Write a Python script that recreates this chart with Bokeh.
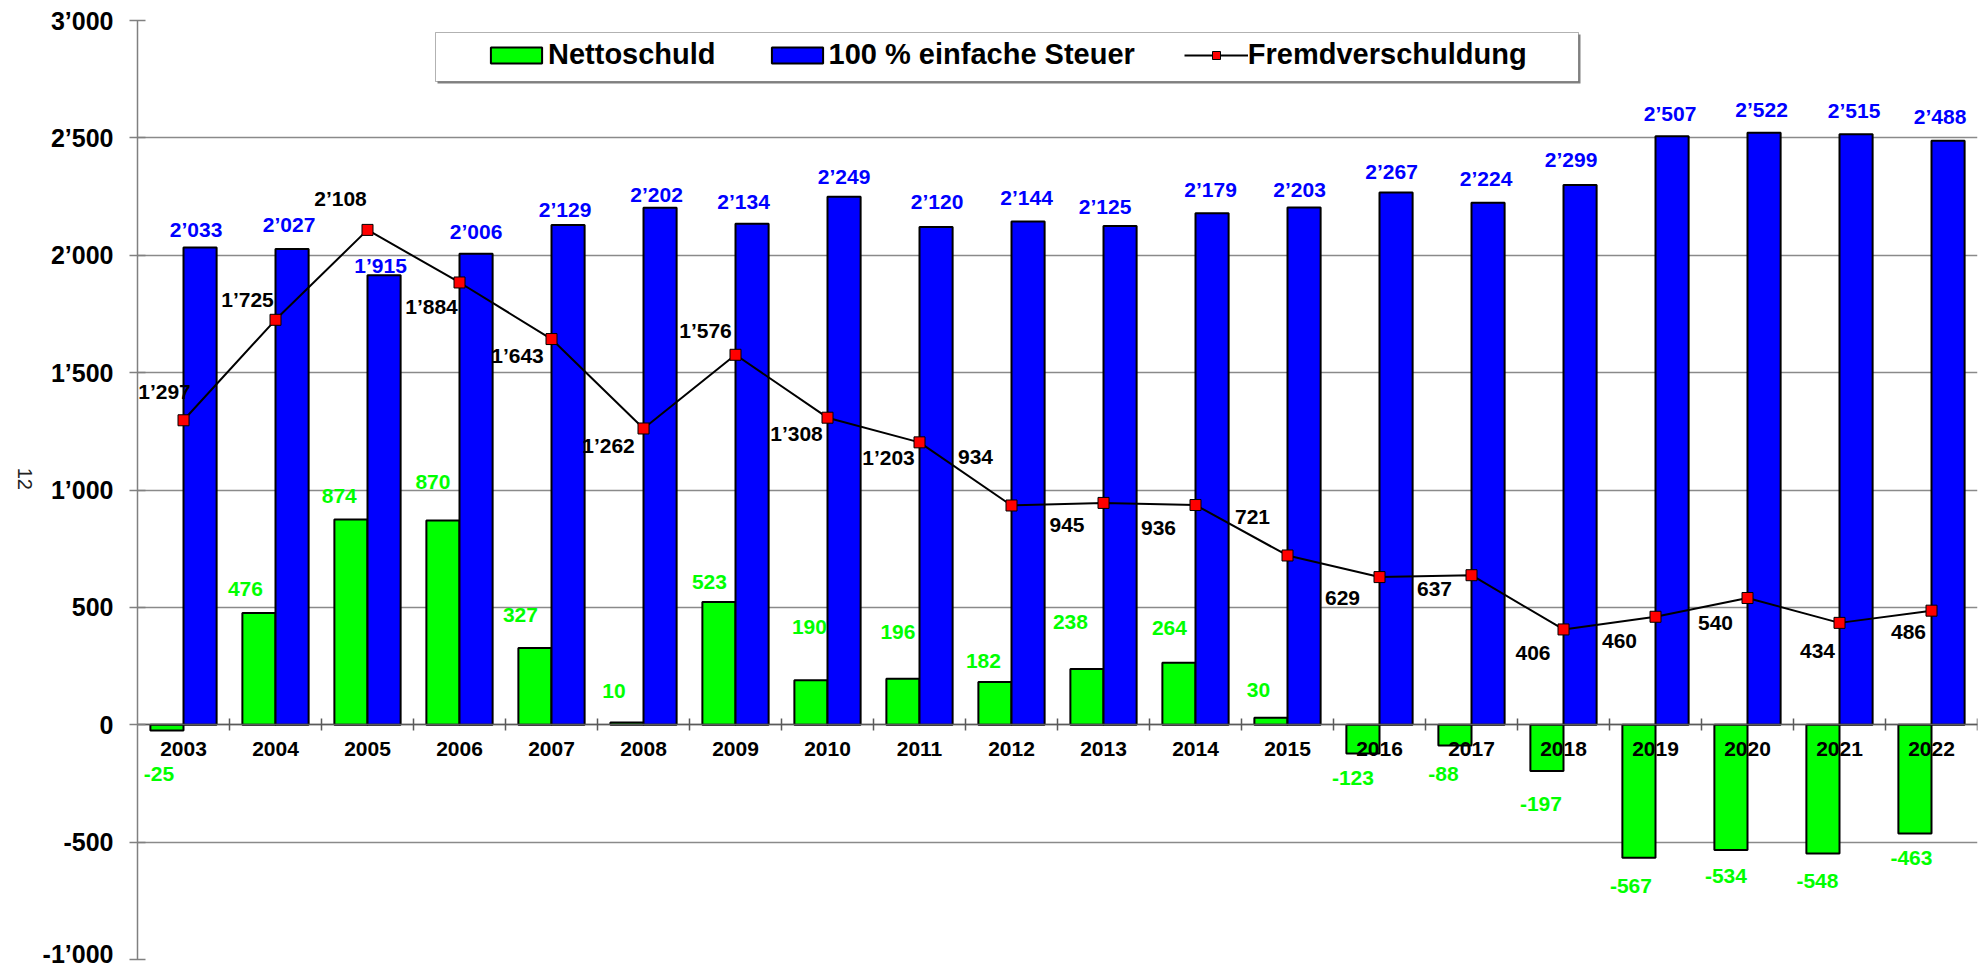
import math
from bokeh.plotting import figure
from bokeh.models import (Range1d, LinearAxis, FixedTicker, ColumnDataSource,
                          Legend, LegendItem, BoxAnnotation, LabelSet)
from bokeh.transform import dodge
from bokeh.core.properties import value
from bokeh.embed import file_html
from bokeh.resources import INLINE

# ---------------- data ----------------
years = [str(y) for y in range(2003, 2023)]
nettoschuld = [-25, 476, 874, 870, 327, 10, 523, 190, 196, 182, 238, 264, 30,
               -123, -88, -197, -567, -534, -548, -463]
steuer = [2033, 2027, 1915, 2006, 2129, 2202, 2134, 2249, 2120, 2144, 2125, 2179,
          2203, 2267, 2224, 2299, 2507, 2522, 2515, 2488]
fremd = [1297, 1725, 2108, 1884, 1643, 1262, 1576, 1308, 1203, 934, 945, 936,
         721, 629, 637, 406, 460, 540, 434, 486]
y_ticks = [-1000, -500, 0, 500, 1000, 1500, 2000, 2500, 3000]
y_tick_labels = ["-1\u2019000", "-500", "0", "500", "1\u2019000", "1\u2019500",
                 "2\u2019000", "2\u2019500", "3\u2019000"]
series_names = ["Nettoschuld", "100 % einfache Steuer", "Fremdverschuldung"]
axis_title = "12"

# label placement offsets (screen px, down = positive; styling only)
green_dx = [-8, -13.5, -11.7, -10, -14.5, -13, -9.5, -1.5, -5, -11.5, -16.5, -9.5, -12.5,
            -10, -11.5, -6, -8, -5, -5.5, -3.5]
green_dy = [43.6, -23.7, -24, -39, -32.7, -31, -19.7, -53.4, -47, -21.3, -47, -35, -28,
            24, 29, 33, 28, 26, 28, 25]
blue_dx = [-4, -3, -3.5, 0, -3, -3.5, -8.5, 0, 1, -1.5, -15, -1.5, -4.5, -4.5, -2, -9,
           -2, -2.5, -2, -8]
blue_dy = [-18, -24, -9.5, -22.5, -15.6, -13.5, -22, -20.7, -25.7, -24, -19.5, -23.6,
           -18, -20.8, -24.3, -25.4, -23.2, -23.6, -24, -24]
line_dx = [-19, -28, -27, -28, -34, -35, -30, -31, -31, -36, -36.5, -37, -35, -37,
           -37, -30.5, -36, -32, -22, -23]
line_dy = [-28.5, -20, -31.5, 24, 16, 17, -24.5, 16, 15, -48, 22.5, 23, -38, 21, 14,
           24, 24, 25, 28, 21.5]


def fmt(v):
    return f"{v:,}".replace(",", "\u2019")


n = len(years)
centers = [i + 0.5 for i in range(n)]          # category slots on the x scale
bounds = [i for i in range(1, n + 1)]          # category boundaries

src = ColumnDataSource(dict(
    x=centers, net=nettoschuld, st=steuer, fr=fremd,
    net_l=[fmt(v) for v in nettoschuld], st_l=[fmt(v) for v in steuer],
    fr_l=[fmt(v) for v in fremd],
    gdx=green_dx, gdy=green_dy, bdx=blue_dx, bdy=blue_dy, ldx=line_dx,
    ldy_up=[-d for d in line_dy],
))

FONT_NAME = "Liberation Sans"
FONT = value(FONT_NAME)

p = figure(x_range=Range1d(0, n), y_range=Range1d(-1000, 3000),
           frame_width=1840, frame_height=939,
           min_border_left=137, min_border_top=20, min_border_right=2, min_border_bottom=8,
           output_backend="svg", toolbar_location=None, tools="")
p.outline_line_color = None
p.background_fill_color = "white"

# grid
p.xgrid.visible = False
p.ygrid.ticker = FixedTicker(ticks=y_ticks)
p.ygrid.grid_line_color = "#8a8a8a"
p.ygrid.grid_line_width = 1.5

# y axis
ya = p.yaxis[0]
ya.ticker = FixedTicker(ticks=y_ticks)
ya.major_label_overrides = {t: l for t, l in zip(y_ticks, y_tick_labels)}
ya.axis_line_color = "#808080"
ya.axis_line_width = 1.5
ya.major_tick_line_color = "#808080"
ya.major_tick_line_width = 1.5
ya.major_tick_in = 8
ya.major_tick_out = 8
ya.minor_tick_line_color = None
ya.major_label_text_font = FONT_NAME
ya.major_label_text_font_style = "bold"
ya.major_label_text_font_size = "25px"
ya.major_label_text_color = "black"
ya.major_label_standoff = 16

# rotated axis title on an extra, otherwise invisible left axis
ta = LinearAxis(ticker=FixedTicker(ticks=[]))
ta.axis_line_color = None
ta.major_tick_line_color = None
ta.minor_tick_line_color = None
ta.major_label_text_font_size = "0px"
ta.axis_label = axis_title
ta.axis_label_orientation = -math.pi / 2
ta.axis_label_text_font = FONT_NAME
ta.axis_label_text_font_style = "normal"
ta.axis_label_text_font_size = "20px"
ta.axis_label_text_color = "#222222"
ta.axis_label_standoff = 15
p.add_layout(ta, "left")

# year labels axis at zero
xa = p.xaxis[0]
xa.fixed_location = 0
xa.ticker = FixedTicker(ticks=centers)
xa.major_label_overrides = {c: y for c, y in zip(centers, years)}
xa.axis_line_color = None
xa.major_tick_line_color = None
xa.minor_tick_line_color = None
xa.major_label_text_font = FONT_NAME
xa.major_label_text_font_style = "bold"
xa.major_label_text_font_size = "21px"
xa.major_label_text_color = "black"
xa.major_label_standoff = 11

# zero line with boundary ticks
za = LinearAxis(ticker=FixedTicker(ticks=bounds), fixed_location=0)
za.axis_line_color = "#5a5a5a"
za.axis_line_width = 1.5
za.major_tick_line_color = "#5a5a5a"
za.major_tick_line_width = 1.5
za.major_tick_in = 6
za.major_tick_out = 6
za.minor_tick_line_color = None
za.major_label_text_font_size = "0px"
za.major_label_text_alpha = 0
p.add_layout(za, "below")

# bars
bw = 0.36
r_green = p.vbar(x=dodge("x", -bw / 2), top="net", bottom=0, width=bw,
                 source=src, fill_color="#00ff00", line_color="black", line_width=2)
r_blue = p.vbar(x=dodge("x", bw / 2), top="st", bottom=0, width=bw,
                source=src, fill_color="#0000ff", line_color="black", line_width=2)

# line
r_line = p.line(x="x", y="fr", source=src, line_color="black", line_width=2)
r_pts = p.scatter(x="x", y="fr", source=src, marker="square", size=11,
                  fill_color="#ff0000", line_color="black", line_width=1)

# data labels
common = dict(source=src, text_align="center", text_baseline="middle", text_font=FONT,
              text_font_style="bold", text_font_size="21px")
p.text(x=dodge("x", -bw / 2), y="net", text="net_l", x_offset="gdx",
       y_offset="gdy", text_color="#00ff00", **common)
p.text(x=dodge("x", bw / 2), y="st", text="st_l", x_offset="bdx",
       y_offset="bdy", text_color="#0000ff", **common)
p.add_layout(LabelSet(x="x", y="fr", text="fr_l", x_offset="ldx", y_offset="ldy_up",
                      source=src, text_align="center", text_baseline="middle",
                      text_font=FONT, text_font_style="bold", text_font_size="21px",
                      text_color="black"))

# legend frame (screen units relative to frame)
shadow = BoxAnnotation(left=300, right=1443, top=925, bottom=876, left_units="screen",
                       right_units="screen", top_units="screen", bottom_units="screen",
                       fill_color="#808080", fill_alpha=1, line_color=None, level="annotation")
box = BoxAnnotation(left=298, right=1441, top=927, bottom=878, left_units="screen",
                    right_units="screen", top_units="screen", bottom_units="screen",
                    fill_color="white", fill_alpha=1, line_color="black", line_width=1,
                    level="annotation")
p.add_layout(shadow)
p.add_layout(box)

legend = Legend(items=[LegendItem(label=series_names[0], renderers=[r_green]),
                       LegendItem(label=series_names[1], renderers=[r_blue]),
                       LegendItem(label=series_names[2], renderers=[r_line, r_pts])],
                orientation="horizontal", location=(347, 888), padding=0, margin=0,
                spacing=49, glyph_width=64, glyph_height=20, label_standoff=0,
                border_line_color=None, background_fill_alpha=0,
                label_text_font=FONT_NAME, label_text_font_style="bold",
                label_text_font_size="29px", label_text_color="black")
p.add_layout(legend)

open("out.html", "w").write(file_html(p, INLINE))
